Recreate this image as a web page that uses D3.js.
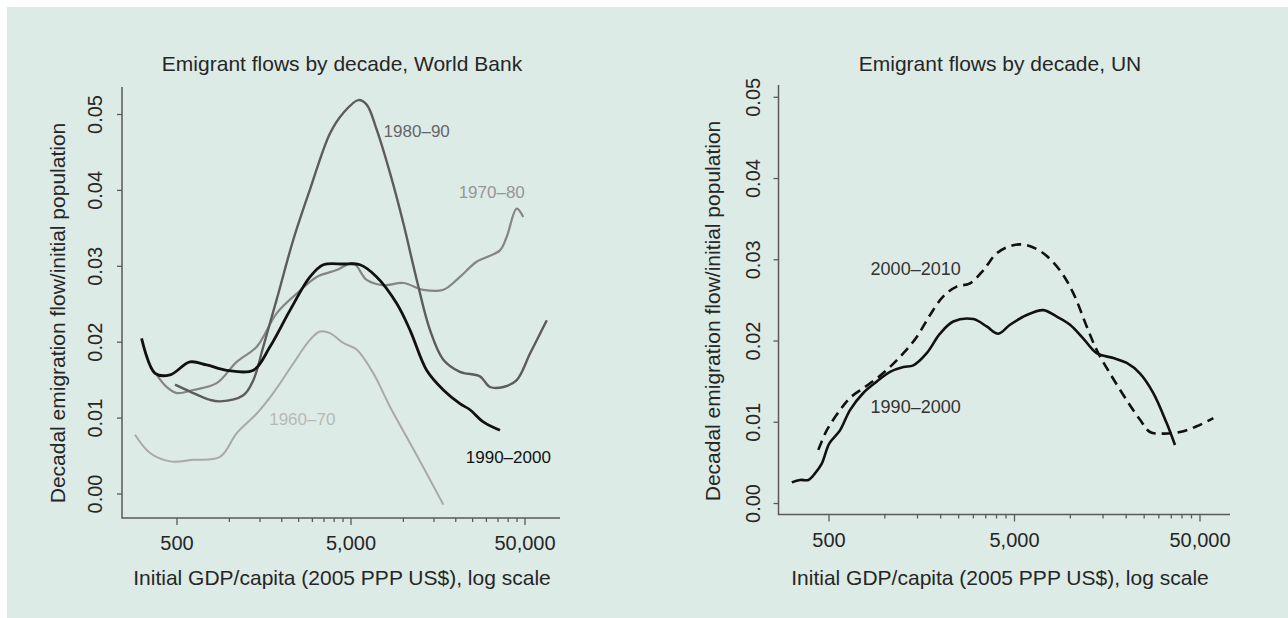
<!DOCTYPE html>
<html>
<head>
<meta charset="utf-8">
<script src="https://cdn.jsdelivr.net/npm/d3@7"></script>
<style>
  body { margin: 0; background: #ffffff; }
  svg { display: block; font-family: "Liberation Sans", Arial, sans-serif; }
</style>
</head>
<body>
<svg width="1288" height="618"></svg>
<script>
// emigrant flows by decade -- two panels (World Bank, UN)

// gdp/capita and flow values
var gdp60 = [287, 350, 456, 620, 883, 1101, 1436, 1787, 2330, 2904, 3317, 3785, 4515, 5400, 6720, 8375, 10450, 13610, 16970];
var flow60 = [0.0078, 0.0054, 0.0043, 0.0045, 0.0049, 0.0080, 0.0106, 0.0133, 0.0172, 0.0203, 0.0214, 0.0212, 0.0199, 0.0190, 0.0159, 0.0115, 0.0075, 0.0027, -0.0014];

var gdp70 = [382, 436, 498, 620, 845, 1101, 1436, 1869, 2437, 3176, 4140, 5157, 6150, 7670, 9990, 13020, 16970, 21140, 26350, 35900, 39270, 44800, 48850];
var flow70 = [0.0157, 0.0141, 0.0133, 0.0137, 0.0146, 0.0174, 0.0194, 0.0238, 0.0264, 0.0286, 0.0295, 0.0304, 0.0282, 0.0275, 0.0278, 0.0269, 0.0269, 0.0286, 0.0306, 0.0321, 0.0339, 0.0376, 0.0365];

var gdp80 = [487, 594, 774, 883, 1202, 1373, 1566, 1869, 2330, 2904, 3785, 4515, 5510, 6150, 7025, 8375, 9990, 11940, 14230, 16970, 21140, 27540, 31450, 37570, 44800, 53450, 66700];
var flow80 = [0.0144, 0.0135, 0.0124, 0.0122, 0.0130, 0.0150, 0.0194, 0.0256, 0.0335, 0.0401, 0.0475, 0.0502, 0.0519, 0.0513, 0.0480, 0.0423, 0.0357, 0.0282, 0.0216, 0.0177, 0.0161, 0.0155, 0.0141, 0.0141, 0.0150, 0.0185, 0.0229];

var gdp90 = [313, 374, 456, 594, 740, 965, 1373, 1711, 2229, 2904, 3466, 4500, 5632, 7025, 9160, 10920, 13610, 16970, 21140, 24140, 28800, 35900];
var flow90 = [0.0205, 0.0159, 0.0157, 0.0174, 0.0170, 0.0163, 0.0163, 0.0194, 0.0242, 0.0286, 0.0302, 0.0303, 0.0302, 0.0286, 0.0251, 0.0216, 0.0163, 0.0137, 0.0119, 0.0111, 0.0095, 0.0084];

var unGdp90 = [315, 349, 387, 420, 457, 502, 573, 649, 765, 904, 1066, 1259, 1424, 1682, 1983, 2339, 2998, 3540, 4090, 4730, 5820, 7150, 8450, 9960, 11750, 13870, 17060, 20140, 23770, 28010, 33050, 36650];
var unFlow90 = [0.0026, 0.0029, 0.0029, 0.0037, 0.0049, 0.0074, 0.0090, 0.0115, 0.0136, 0.0150, 0.0162, 0.0168, 0.0170, 0.0185, 0.0209, 0.0224, 0.0227, 0.0218, 0.0209, 0.0220, 0.0232, 0.0238, 0.0230, 0.0220, 0.0203, 0.0185, 0.0179, 0.0173, 0.0160, 0.0136, 0.0099, 0.0072];

var unGdp00 = [438, 486, 573, 649, 765, 904, 1066, 1259, 1486, 1752, 2066, 2438, 2877, 3394, 4009, 4925, 5820, 7150, 8790, 10370, 12250, 13870, 16370, 20140, 23770, 26870, 31700, 39000, 47950, 59000];
var unFlow00 = [0.0066, 0.0090, 0.0115, 0.0130, 0.0142, 0.0154, 0.0168, 0.0185, 0.0205, 0.0232, 0.0255, 0.0267, 0.0271, 0.0287, 0.0308, 0.0318, 0.0318, 0.0308, 0.0287, 0.0259, 0.0218, 0.0189, 0.0160, 0.0127, 0.0103, 0.0088, 0.0086, 0.0088, 0.0095, 0.0105];

var xTicks = [500, 1000, 1500, 2000, 2500, 3000, 3500, 4000, 4500, 5000,
  10000, 15000, 20000, 25000, 30000, 35000, 40000, 45000, 50000];
var xLabels = [500, 5000, 50000];
var yTicks = [0, 0.01, 0.02, 0.03, 0.04, 0.05];

var titles = ["Emigrant flows by decade, World Bank", "Emigrant flows by decade, UN"];
var xTitle = "Initial GDP/capita (2005 PPP US$), log scale";
var yTitle = "Decadal emigration flow/initial population";

var svg = d3.select("svg");
var textCol = "#262626";
var axisCol = "#5a5a5a";

// background (white strip on top and left)
svg.append("rect").attr("x", 7).attr("y", 7).attr("width", 1281).attr("height", 611).attr("fill", "#dcebe6");

var fmt = d3.format(",");

// draws axes + titles for one panel, returns the scales
var drawPanel = function(p) {
  var x = d3.scaleLog().domain([500, 50000]).range([p.x0, p.x1]);
  var y = d3.scaleLinear().domain([0, 0.05]).range([p.y0, p.y1]);

  // L-shaped box
  svg.append("path")
    .attr("d", "M" + p.left + "," + p.top + "V" + p.bottom + "H" + p.right)
    .attr("fill", "none").attr("stroke", axisCol).attr("stroke-width", 1.5);

  // x ticks
  var gx = svg.append("g").attr("transform", "translate(0," + p.bottom + ")");
  gx.selectAll("line").data(xTicks).enter().append("line")
    .attr("x1", function(d) { return x(d); }).attr("x2", function(d) { return x(d); })
    .attr("y1", 0).attr("y2", function(d) { return xLabels.indexOf(d) >= 0 ? 7 : 4; })
    .attr("stroke", axisCol).attr("stroke-width", 1.3);
  gx.selectAll("text").data(xLabels).enter().append("text")
    .attr("x", function(d) { return x(d); }).attr("y", 25)
    .attr("text-anchor", "middle").attr("dominant-baseline", "central")
    .attr("font-size", 20).attr("fill", textCol)
    .text(function(d) { return fmt(d); });

  // y ticks, labels rotated like R
  var gy = svg.append("g");
  gy.selectAll("line").data(yTicks).enter().append("line")
    .attr("x1", p.left - 5).attr("x2", p.left)
    .attr("y1", function(d) { return y(d); }).attr("y2", function(d) { return y(d); })
    .attr("stroke", axisCol).attr("stroke-width", 1.3);
  gy.selectAll("text").data(yTicks).enter().append("text")
    .attr("transform", function(d) { return "translate(" + p.yLabX + "," + y(d) + ") rotate(-90)"; })
    .attr("text-anchor", "middle").attr("dominant-baseline", "central")
    .attr("font-size", 20).attr("fill", textCol)
    .text(function(d) { return d3.format(".2f")(d); });

  svg.append("text").attr("x", p.titleX).attr("y", 63)
    .attr("text-anchor", "middle").attr("dominant-baseline", "central")
    .attr("font-size", 21).attr("fill", textCol).text(p.title);
  svg.append("text").attr("x", p.titleX).attr("y", 577)
    .attr("text-anchor", "middle").attr("dominant-baseline", "central")
    .attr("font-size", 21).attr("fill", textCol).text(xTitle);
  svg.append("text")
    .attr("transform", "translate(" + p.yTitleX + "," + p.yTitleY + ") rotate(-90)")
    .attr("text-anchor", "middle").attr("dominant-baseline", "central")
    .attr("font-size", 21).attr("fill", textCol).text(yTitle);

  return {x: x, y: y};
}

var drawLine = function(s, gdp, flow, color, width, dash) {
  var pts = gdp.map(function(g, i) { return [g, flow[i]]; });
  var line = d3.line()
    .x(function(d) { return s.x(d[0]); })
    .y(function(d) { return s.y(d[1]); })
    .curve(d3.curveCatmullRom.alpha(0.5));
  svg.append("path").datum(pts).attr("d", line)
    .attr("fill", "none").attr("stroke", color).attr("stroke-width", width)
    .attr("stroke-linejoin", "round").attr("stroke-dasharray", dash || null);
}

var drawLabel = function(s, gdp, flow, txt, color, size) {
  svg.append("text").attr("x", s.x(gdp)).attr("y", s.y(flow))
    .attr("text-anchor", "middle").attr("dominant-baseline", "central")
    .attr("font-size", size).attr("fill", color).text(txt);
}

// left panel: World Bank
var wb = drawPanel({x0: 177, x1: 525, y0: 494, y1: 114.5, left: 122, right: 560, top: 87, bottom: 518,
  yLabX: 95, titleX: 342, yTitleX: 57, yTitleY: 313, title: titles[0]});
drawLine(wb, gdp60, flow60, "#a9a9a9", 2);
drawLine(wb, gdp70, flow70, "#858585", 2.2);
drawLine(wb, gdp80, flow80, "#5c5c5c", 2.4);
drawLine(wb, gdp90, flow90, "#111111", 2.8);
drawLabel(wb, 11930, 0.0477, "1980\u201390", "#666666", 17);
drawLabel(wb, 32200, 0.0397, "1970\u201380", "#969696", 17);
drawLabel(wb, 2624, 0.00975, "1960\u201370", "#b8b8b8", 17);
drawLabel(wb, 40100, 0.00478, "1990\u20132000", "#111111", 17);

// right panel: UN
var un = drawPanel({x0: 829, x1: 1200, y0: 503.5, y1: 97.3, left: 778.5, right: 1230, top: 85, bottom: 514.5,
  yLabX: 753, titleX: 1000, yTitleX: 712, yTitleY: 311, title: titles[1]});
drawLine(un, unGdp90, unFlow90, "#111111", 2.6);
drawLine(un, unGdp00, unFlow00, "#111111", 2.6, "10,6");
drawLabel(un, 1466, 0.0289, "2000\u20132010", "#333333", 18);
drawLabel(un, 1466, 0.0119, "1990\u20132000", "#333333", 18);
</script>
</body>
</html>
